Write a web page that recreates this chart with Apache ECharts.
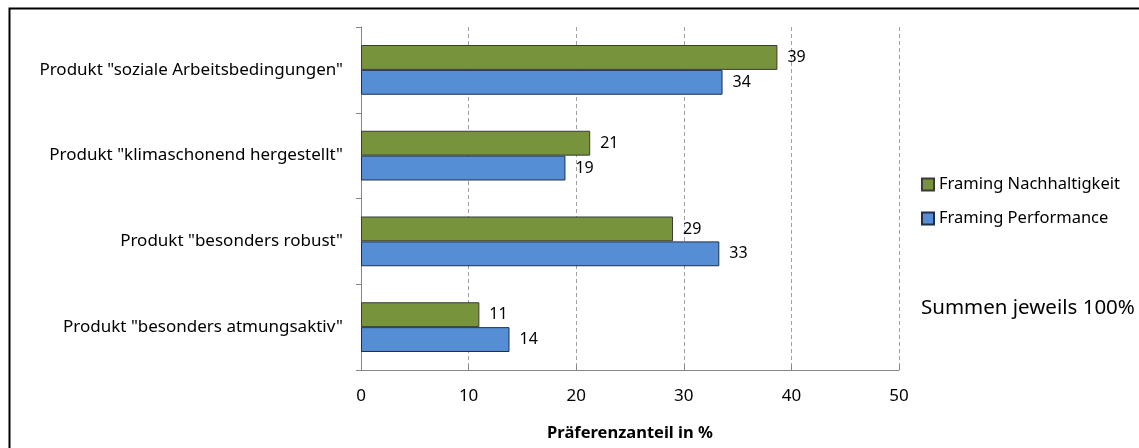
<!DOCTYPE html>
<html><head><meta charset="utf-8">
<script src="https://cdn.jsdelivr.net/npm/echarts@6/dist/echarts.min.js"></script>
<style>html,body{margin:0;padding:0;background:#fff}#c{width:1139px;height:448px}</style>
</head><body><div id="c"></div>
<script>
const categories = ['Produkt "soziale Arbeitsbedingungen"', 'Produkt "klimaschonend hergestellt"', 'Produkt "besonders robust"', 'Produkt "besonders atmungsaktiv"'];
const seriesNames = ['Framing Nachhaltigkeit', 'Framing Performance'];
const nachhaltigkeit = [38.7, 21.3, 29.0, 11.0];
const performance = [33.6, 19.0, 33.3, 13.8];
const xTicks = [0, 10, 20, 30, 40, 50];
const axisTitle = 'Präferenzanteil in %';
const note = 'Summen jeweils 100%';

const FONT = '"Noto Sans", "Open Sans", sans-serif';
const chart = echarts.init(document.getElementById('c'));
chart.setOption({
  animation: false,
  textStyle: { fontFamily: FONT },
  grid: { left: 361, right: 240, top: 27, bottom: 78 },
  legend: {
    orient: 'vertical', left: 916, top: 171, itemGap: 17,
    itemWidth: 12, itemHeight: 12, icon: 'rect',
    data: seriesNames,
    textStyle: { fontFamily: FONT, fontSize: 16.5, lineHeight: 17, color: '#000' }
  },
  xAxis: {
    type: 'value', min: xTicks[0], max: xTicks[xTicks.length - 1], interval: 10,
    name: axisTitle, nameLocation: 'middle', nameGap: 55,
    nameTextStyle: { fontFamily: FONT, fontSize: 16.5, fontWeight: 'bold', color: '#000' },
    axisLine: { show: true, lineStyle: { color: '#868686' } },
    axisTick: { show: true, inside: true, length: 5, lineStyle: { color: '#868686' } },
    axisLabel: { fontFamily: FONT, fontSize: 17, color: '#000', margin: 18 },
    splitLine: { show: true, lineStyle: { color: '#a0a0a0', type: [4, 3] } }
  },
  yAxis: {
    type: 'category', inverse: true, data: categories,
    axisLine: { show: true, lineStyle: { color: '#868686' } },
    axisTick: { show: true, length: 5, lineStyle: { color: '#868686' } },
    axisLabel: { fontFamily: FONT, fontSize: 17, color: '#000', margin: 18 }
  },
  series: [
    {
      name: seriesNames[0], type: 'bar', data: nachhaltigkeit,
      barGap: '0%', barCategoryGap: '42%',
      itemStyle: { color: '#77933C', borderColor: '#3a3a3a', borderWidth: 1 },
      label: { show: true, position: 'right', distance: 10, color: '#000', fontFamily: FONT, fontSize: 16,
               formatter: p => Math.round(p.value) }
    },
    {
      name: seriesNames[1], type: 'bar', data: performance,
      barGap: '0%', barCategoryGap: '42%',
      itemStyle: { color: '#558ED5', borderColor: '#1f2f4a', borderWidth: 1 },
      label: { show: true, position: 'right', distance: 10, color: '#000', fontFamily: FONT, fontSize: 16,
               formatter: p => Math.round(p.value) }
    }
  ],
  graphic: [
    { type: 'rect', left: 7, top: 6, shape: { width: 1150, height: 460 },
      style: { fill: 'none', stroke: '#000', lineWidth: 2 }, silent: true },
    { type: 'text', left: 921, top: 298,
      style: { text: note, fontFamily: FONT, fontSize: 20.5, fill: '#000' } }
  ]
});
</script></body></html>
